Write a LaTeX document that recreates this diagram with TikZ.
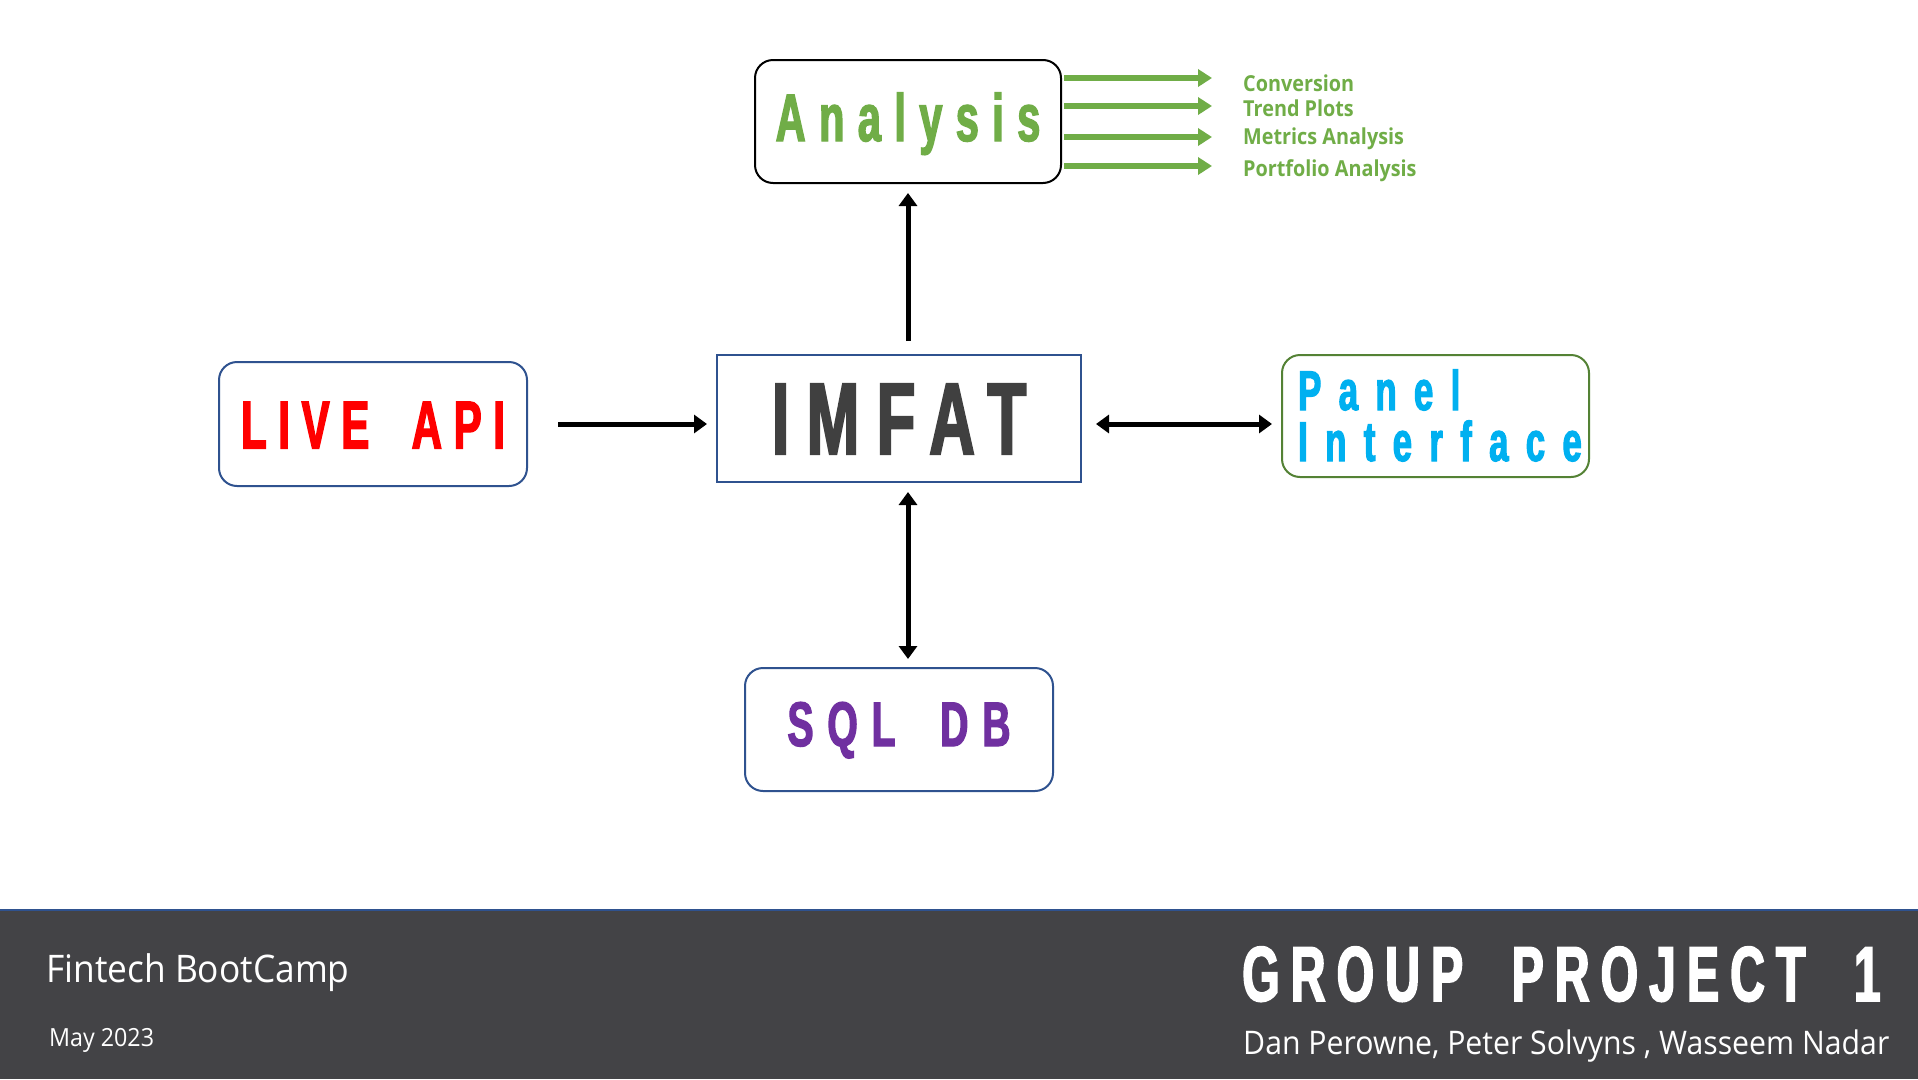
\documentclass[tikz,border=0pt]{standalone}
\usepackage{fontspec}
\usetikzlibrary{arrows.meta}
\setmainfont{Open Sans}
\newfontfamily\cond[FakeStretch=0.62,FakeBold=2]{Liberation Sans Bold}
\newfontfamily\labfont[FakeStretch=0.9]{Open Sans Bold}
\newfontfamily\footfont[FakeStretch=0.93]{Open Sans}
\definecolor{agreen}{HTML}{70AD47}
\definecolor{bblue}{HTML}{2F528F}
\definecolor{pgreen}{HTML}{548235}
\definecolor{pcyan}{HTML}{00B0F0}
\definecolor{spurple}{HTML}{7030A0}
\definecolor{igray}{HTML}{404040}
\definecolor{footer}{HTML}{434346}
\tikzset{
  rbox/.style={draw=bblue, line width=2pt, rounded corners=18pt, inner sep=0pt},
  blk/.style={line width=5pt, -{Triangle[length=13pt,width=18pt]}},
  blkboth/.style={line width=5pt, {Triangle[length=13pt,width=18pt]}-{Triangle[length=13pt,width=18pt]}},
  garrow/.style={agreen, line width=6pt, -{Triangle[length=14pt,width=17pt]}},
  glab/.style={anchor=base west, inner sep=0pt, text=agreen, font=\labfont\fontsize{22}{24}\selectfont},
}
\begin{document}
\begin{tikzpicture}[x=1pt,y=-1pt]
\useasboundingbox (0,0) rectangle (1918,1079);
\fill[white] (0,0) rectangle (1918,1079);
% footer
\fill[footer] (0,910) rectangle (1918,1079);
\draw[bblue, line width=2pt] (0,910) -- (1918,910);

% Analysis
\node[rbox, draw=black, minimum width=306pt, minimum height=123pt, text height=48pt, text depth=9pt,
  text=agreen, font={\cond\fontsize{67}{67}\selectfont\addfontfeature{LetterSpace=20}}]
  (ana) at (908,121.5) {Analysis};
% IMFAT
\node[draw=bblue, line width=2pt, inner sep=0pt, minimum width=364pt, minimum height=127pt,
  text height=73pt, text depth=2pt, text=igray,
  font={\cond\fontsize{102}{102}\selectfont\addfontfeature{LetterSpace=17}}]
  (imfat) at (899,418.5) {IMFAT};
% LIVE API
\node[rbox, minimum width=308pt, minimum height=124pt, text height=49pt, text depth=0pt, text=red,
  font={\cond\fontsize{68}{68}\selectfont\addfontfeature{LetterSpace=17}}]
  (api) at (373,424) {LIVE \hspace{19pt}API};
% Panel
\node[rbox, draw=pgreen, minimum width=307pt, minimum height=122pt]
  (panel) at (1435.5,416) {};
\node[anchor=base west, inner sep=0pt, align=left, text=pcyan,
  font={\cond\fontsize{56}{51}\selectfont\addfontfeature{LetterSpace=31}}]
  (paneltxt) at (1298,461) {Panel\\Interface};
% SQL DB
\node[rbox, minimum width=308pt, minimum height=123pt, text height=45pt, text depth=12pt, text=spurple,
  font={\cond\fontsize{63}{63}\selectfont\addfontfeature{LetterSpace=22}}]
  (sql) at (899,729.5) {SQL \hspace{20pt}DB};

% connectors
\coordinate (imtop) at (908,341);
\coordinate (anabot) at (908,193);
\draw[blk] (imtop) -- (anabot);
\coordinate (apiR) at (558,424);
\coordinate (imL) at (707,424);
\draw[blk] (apiR) -- (imL);
\coordinate (imR) at (1096,424);
\coordinate (panL) at (1272,424);
\draw[blkboth] (imR) -- (panL);
\coordinate (imB) at (908,492);
\coordinate (sqlT) at (908,659);
\draw[blkboth] (imB) -- (sqlT);

% green arrows and labels
\foreach \y/\name in {78/ga, 106/gb, 137/gc, 166/gd}{
  \coordinate (\name s) at (1064,\y);
  \coordinate (\name e) at (1212,\y);
  \draw[garrow] (\name s) -- (\name e);
}
\node[glab] (l1) at (1243,91) {Conversion};
\node[glab] (l2) at (1243,116) {Trend Plots};
\node[glab] (l3) at (1243,144) {Metrics Analysis};
\node[glab] (l4) at (1243,176) {Portfolio Analysis};

% footer texts
\node[anchor=base west, inner sep=0pt, text=white, font=\footfont\fontsize{38}{40}\selectfont]
  (fin) at (46,982) {Fintech BootCamp};
\node[anchor=base west, inner sep=0pt, text=white, font=\footfont\fontsize{25}{28}\selectfont]
  (may) at (49,1046) {May 2023};
\node[anchor=base west, inner sep=0pt, text=white,
  font={\cond\fontsize{78}{78}\selectfont\addfontfeature{LetterSpace=14}}]
  (grp) at (1242,1001) {GROUP \hspace{24pt}PROJECT \hspace{24pt}1};
\node[anchor=base west, inner sep=0pt, text=white, font=\footfont\fontsize{32.5}{36}\selectfont]
  (names) at (1243,1054) {Dan Perowne, Peter Solvyns , Wasseem Nadar};
\end{tikzpicture}
\end{document}
